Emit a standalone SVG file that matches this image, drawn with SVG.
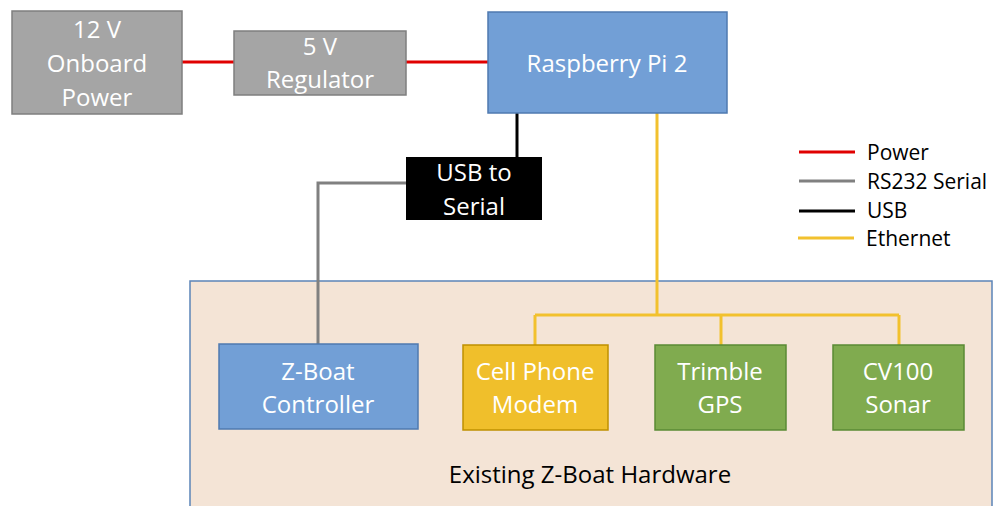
<svg xmlns="http://www.w3.org/2000/svg" width="994" height="506" viewBox="0 0 994 506">
<style>
text{font-family:"Open Sans","Liberation Sans",sans-serif;font-size:24px;text-anchor:middle}
.w{fill:#ffffff}
.k{fill:#000000}
.gray{fill:#a5a5a5;stroke:#7f7f7f;stroke-width:1.5}
.blue{fill:#729fd6;stroke:#4f7ab0;stroke-width:1.5}
.yel{fill:#f0bf2b;stroke:#bf9000;stroke-width:1.5}
.grn{fill:#80ab4f;stroke:#5a8a35;stroke-width:1.5}
.c{fill:none;stroke-width:3}
.pw{stroke:#e00000}
.rs{stroke:#808080}
.usb{stroke:#000000}
.eth{stroke:#f2c12e}
.lg{font-size:21px;text-anchor:start}
</style>
<g id="hardware-area">
<rect x="190" y="281" width="802" height="240" fill="#f4e4d6" stroke="#5b84b8" stroke-width="1.5"/>
<text class="k" x="590" y="483">Existing Z-Boat Hardware</text>
</g>
<g id="connectors">
<path class="c pw" d="M182 62H234M406 62H488"/>
<path class="c usb" d="M517 113V157"/>
<path class="c rs" d="M406 183H318V344"/>
<path class="c eth" d="M657 113V315M535 315H899M535 315V345M721 315V345M899 315V345"/>
</g>
<g id="power12">
<rect class="gray" x="12" y="11" width="170" height="103"/>
<text class="w" x="97" y="38">12 V</text>
<text class="w" x="97" y="72">Onboard</text>
<text class="w" x="97" y="106">Power</text>
</g>
<g id="regulator">
<rect class="gray" x="234" y="31" width="172" height="64"/>
<text class="w" x="320" y="55">5 V</text>
<text class="w" x="320" y="88">Regulator</text>
</g>
<g id="rpi">
<rect class="blue" x="488" y="12" width="239" height="101"/>
<text class="w" x="607" y="72">Raspberry Pi 2</text>
</g>
<g id="usbserial">
<rect x="406" y="157" width="136" height="63" fill="#000000"/>
<text class="w" x="474" y="181">USB to</text>
<text class="w" x="474" y="215">Serial</text>
</g>
<g id="controller">
<rect class="blue" x="219" y="344" width="199" height="85"/>
<text class="w" x="318" y="380">Z-Boat</text>
<text class="w" x="318" y="413">Controller</text>
</g>
<g id="modem">
<rect class="yel" x="463" y="345" width="145" height="85"/>
<text class="w" x="535" y="380">Cell Phone</text>
<text class="w" x="535" y="413">Modem</text>
</g>
<g id="gps">
<rect class="grn" x="655" y="345" width="131" height="85"/>
<text class="w" x="720" y="380">Trimble</text>
<text class="w" x="720" y="413">GPS</text>
</g>
<g id="sonar">
<rect class="grn" x="833" y="345" width="131" height="85"/>
<text class="w" x="898" y="380">CV100</text>
<text class="w" x="898" y="413">Sonar</text>
</g>
<g id="legend">
<path class="c pw" d="M799 152H855"/>
<path class="c rs" d="M799 181H855"/>
<path class="c usb" d="M799 211H855"/>
<path class="c eth" d="M798 238H854"/>
<text class="lg k" x="867" y="160">Power</text>
<text class="lg k" x="867" y="189">RS232 Serial</text>
<text class="lg k" x="867" y="218">USB</text>
<text class="lg k" x="866" y="246">Ethernet</text>
</g>
</svg>
